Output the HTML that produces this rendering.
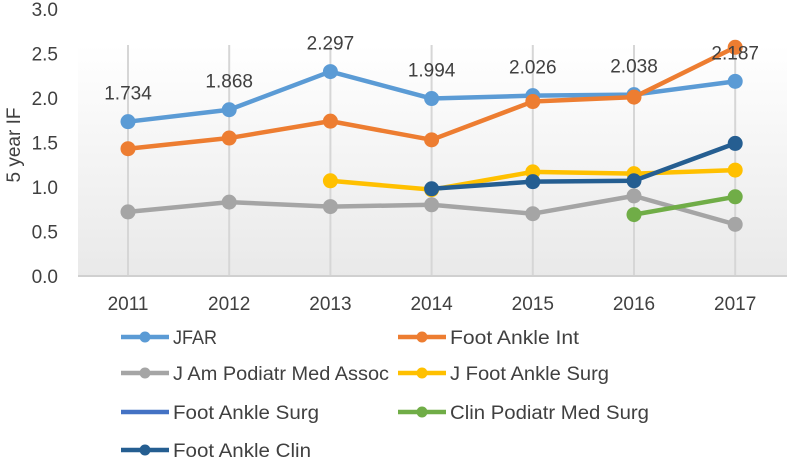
<!DOCTYPE html>
<html><head><meta charset="utf-8"><style>
html,body{margin:0;padding:0;background:#fff;}
svg{display:block;font-family:"Liberation Sans",sans-serif;}
</style></head><body>
<svg id="chart" width="787" height="468" viewBox="0 0 787 468">
<defs><linearGradient id="bg" x1="0" y1="0" x2="0" y2="1"><stop offset="0" stop-color="#ffffff"/><stop offset="1" stop-color="#e9e9e9"/></linearGradient></defs>
<rect x="78" y="45" width="709" height="231" fill="url(#bg)"/>
<g id="grid"></g><g id="axes"></g><g id="series"></g><g id="labels"></g><g id="legend"></g>
<text x="0" y="0" transform="translate(20,145) rotate(-90)" text-anchor="middle" font-size="19" fill="#404040">5 year IF</text>
</svg>
<script>
const years = ['2011','2012','2013','2014','2015','2016','2017'];
const yTicks = [0,0.5,1,1.5,2,2.5,3];
const seriesNames = ['JFAR','Foot Ankle Int','J Am Podiatr Med Assoc','J Foot Ankle Surg','Foot Ankle Surg','Clin Podiatr Med Surg','Foot Ankle Clin'];
const jfar = [1.734,1.868,2.297,1.994,2.026,2.038,2.187];
const footAnkleInt = [1.43,1.55,1.74,1.53,1.96,2.01,2.57];
const jamPodiatr = [0.72,0.83,0.78,0.80,0.70,0.90,0.58];
const jFootAnkleSurg = [null,null,1.07,0.97,1.17,1.15,1.19];
const footAnkleSurg = [null,null,null,null,null,null,null];
const clinPodiatr = [null,null,null,null,null,0.69,0.89];
const footAnkleClin = [null,null,null,0.98,1.06,1.07,1.49];
const jfarLabels = ['1.734','1.868','2.297','1.994','2.026','2.038','2.187'];

const NS='http://www.w3.org/2000/svg';
const X = i => 128 + i*101.2;
const Y = v => 276 - v*89;
function mk(tag, attrs, parent){const e=document.createElementNS(NS,tag);for(const k in attrs)e.setAttribute(k,attrs[k]);parent.appendChild(e);return e;}
const grid=document.getElementById('grid'), axes=document.getElementById('axes'), ser=document.getElementById('series'), lab=document.getElementById('labels'), leg=document.getElementById('legend');
years.forEach((y,i)=>{
  const l=mk('line',{x1:X(i),x2:X(i),y1:45,y2:276,stroke:'#d6d6d6','stroke-width':2},grid);
  
  
  const t=mk('text',{x:X(i),y:310,'text-anchor':'middle','font-size':19,fill:'#404040'},axes);
  t.textContent=y;
  
  
});
yTicks.forEach(v=>{
  const t=mk('text',{x:58,y:Y(v)+7,'text-anchor':'end','font-size':19,fill:'#404040'},axes);
  t.textContent=v.toFixed(1);
  
  
});
const ax=mk('line',{x1:78,x2:787,y1:276,y2:276,stroke:'#d0d0d0','stroke-width':2},axes);


const allSeries=[jfar,footAnkleInt,jamPodiatr,jFootAnkleSurg,footAnkleSurg,clinPodiatr,footAnkleClin];
const colors=['#5b9bd5','#ed7d31','#a5a5a5','#ffc000','#4472c4','#70ad47','#255e91'];
allSeries.forEach((vals,s)=>{
  const g=mk('g',{},ser);
  
  
  let d='';let started=false;
  vals.forEach((v,i)=>{ if(v==null){started=false;return;} d+=(started?'L':'M')+X(i)+' '+Y(v)+' '; started=true;});
  if(d) mk('path',{d:d,fill:'none',stroke:colors[s],'stroke-width':4.5,'stroke-linejoin':'round'},g);
  vals.forEach((v,i)=>{ if(v==null)return;
    const c=mk('circle',{cx:X(i),cy:Y(v),r:7.5,fill:colors[s]},g);
    
    
  });
});
jfar.forEach((v,i)=>{
  const t=mk('text',{x:X(i),y:Y(v)-22,'text-anchor':'middle','font-size':19,fill:'#404040'},lab);
  t.textContent=jfarLabels[i];
  
  
});
const legPos=[[121,347],[398,347],[121,383],[398,383],[121,422],[398,422],[121,460]];
const legW=[44,129,216,159,146,199,138];
const markers=[true,true,true,true,false,true,true];
seriesNames.forEach((n,s)=>{
  const [lx,ly]=legPos[s];
  const g=mk('g',{},leg);
  
  
  mk('line',{x1:lx,x2:lx+48,y1:ly-10,y2:ly-10,stroke:colors[s],'stroke-width':4.5},g);
  if(markers[s]) mk('circle',{cx:lx+24,cy:ly-10,r:5.5,fill:colors[s]},g);
  const t=mk('text',{x:lx+52,y:ly-3,'font-size':19,fill:'#404040',textLength:legW[s],lengthAdjust:'spacingAndGlyphs'},g);
  t.textContent=n;
});
</script>
</body></html>
